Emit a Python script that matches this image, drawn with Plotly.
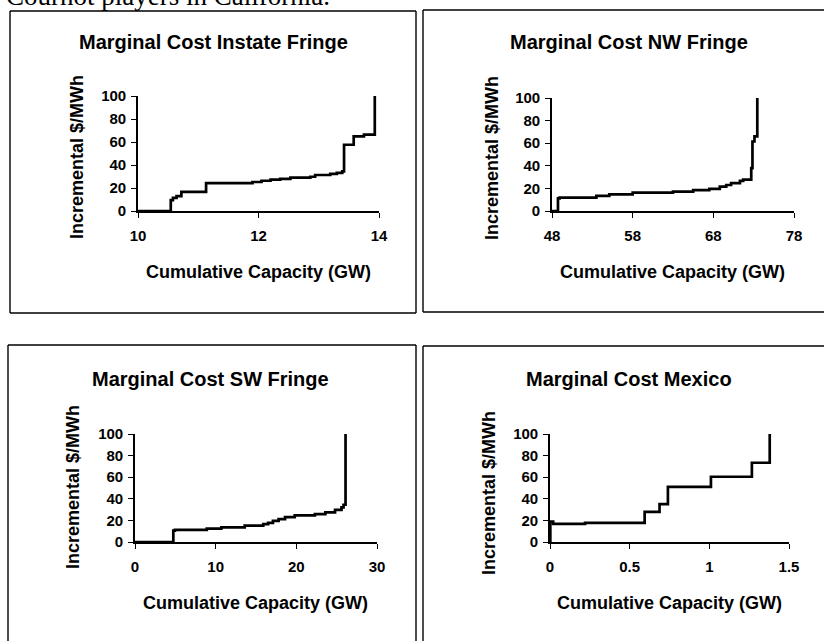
import plotly.graph_objects as go

W, H = 824, 641

# --- dane: schodkowe krzywe kosztu krańcowego (x = początek poziomu, y = poziom) ---
instate_x = [10, 10.544, 10.58, 10.64, 10.72, 11.13, 11.9, 12.05, 12.2, 12.36,
             12.53, 12.86, 12.94, 13.19, 13.3, 13.39, 13.42, 13.58, 13.75, 13.93]
instate_y = [0, 9.4, 11.4, 13, 16.7, 24.3, 25.2, 26.3, 27.2, 28,
             29, 29.8, 31.3, 32.2, 33.2, 34.5, 57.6, 64.9, 66.4, 100]

nw_x = [48, 48.74, 48.95, 53.5, 55.1, 58.0, 63.0, 65.5, 67.5, 68.8,
        69.6, 70.2, 71.3, 71.7, 72.7, 72.85, 73.1, 73.45]
nw_y = [0, 11.2, 11.8, 13.3, 14.8, 16.3, 17.2, 18.5, 19.5, 21.6,
        23, 24.6, 26.6, 27.8, 38, 61.5, 66, 100]

sw_x = [0, 4.75, 4.95, 8.9, 10.7, 13.6, 15.9, 16.5, 17.1, 17.8,
        18.6, 19.8, 22.3, 23.6, 24.8, 25.6, 25.85, 26.1]
sw_y = [0, 10.5, 11.3, 12.3, 13.5, 15.2, 16.5, 17.8, 19.5, 21.2,
        23.1, 24.6, 25.8, 27.4, 29.8, 32, 34.5, 100]

mex_x = [0, 0.002, 0.02, 0.22, 0.594, 0.6875, 0.74, 1.01, 1.267, 1.379]
mex_y = [0, 19, 16.7, 17.8, 27.9, 35, 51, 60.4, 73.4, 100]

instate_ticks = [10, 12, 14]
nw_ticks = [48, 58, 68, 78]
sw_ticks = [0, 10, 20, 30]
mex_ticks = [0, 0.5, 1, 1.5]
cost_ticks = [0, 20, 40, 60, 80, 100]

titles = ["Marginal Cost Instate Fringe", "Marginal Cost NW Fringe",
          "Marginal Cost SW Fringe", "Marginal Cost Mexico"]
x_title = "Cumulative Capacity (GW)"
y_title = "Incremental $/MWh"
caption = "Cournot players in California."

SANS = "Liberation Sans, Arial, sans-serif"
SERIF = "Liberation Serif, Times New Roman, serif"


def px_x(x):
    """piksel okna -> współrzędna paper"""
    return x / W


def px_y(y):
    return 1 - y / H


# pozycje w pikselach okna: pole wykresu (lewo, prawo, góra, dół), tytuły,
# ramki (lewo, prawo, góra, dół; None = bok poza kadrem skanu)
panels = [
    dict(box=(138, 379, 96, 211), title=(213, 42), xt=(258, 272), yt=(77, 157),
         brd=(10, 416, 11, 313), xs=instate_x, ys=instate_y, ticks=instate_ticks),
    dict(box=(552, 794, 98, 211), title=(629, 42), xt=(672, 272), yt=(492, 158),
         brd=(423, None, 10, 312), xs=nw_x, ys=nw_y, ticks=nw_ticks),
    dict(box=(135, 377, 434, 542), title=(210, 379), xt=(256, 603), yt=(73, 487),
         brd=(8, 416, 345, None), xs=sw_x, ys=sw_y, ticks=sw_ticks),
    dict(box=(550, 789, 434, 542), title=(629, 379), xt=(669, 603), yt=(489, 493),
         brd=(423, None, 346, None), xs=mex_x, ys=mex_y, ticks=mex_ticks),
]

fig = go.Figure()
annotations = []
shapes = []


def edge(x0, y0, x1, y1):
    shapes.append(dict(
        type="line", xref="paper", yref="paper",
        x0=px_x(x0), y0=px_y(y0), x1=px_x(x1), y1=px_y(y1),
        line=dict(color="black", width=1.4),
    ))


for i, p in enumerate(panels, start=1):
    sfx = "" if i == 1 else str(i)
    fig.add_trace(go.Scatter(
        x=p["xs"], y=p["ys"], mode="lines", line_shape="hv",
        line=dict(color="black", width=2.7), cliponaxis=False,
        xaxis="x" + sfx, yaxis="y" + sfx, showlegend=False,
        hoverinfo="skip",
    ))
    l, r, t, b = p["box"]
    axis_common = dict(
        showgrid=False, zeroline=False, showline=True, linecolor="black",
        linewidth=1.6, ticks="outside", ticklen=5, tickwidth=1.4,
        tickcolor="black",
        tickfont=dict(family=SANS, size=15, color="black", weight="bold"),
    )
    fig.layout["xaxis" + sfx] = dict(
        domain=[px_x(l), px_x(r)], anchor="y" + sfx,
        range=[p["ticks"][0], p["ticks"][-1]], tickvals=p["ticks"],
        ticklabelstandoff=5, **axis_common,
    )
    fig.layout["yaxis" + sfx] = dict(
        domain=[px_y(b), px_y(t)], anchor="x" + sfx,
        range=[0, 100], tickvals=cost_ticks, ticklabelstandoff=2, **axis_common,
    )
    annotations.append(dict(
        text=titles[i - 1], xref="paper", yref="paper",
        x=px_x(p["title"][0]), y=px_y(p["title"][1]),
        xanchor="center", yanchor="middle", showarrow=False,
        font=dict(family=SANS, size=20, color="black", weight="bold"),
    ))
    annotations.append(dict(
        text=x_title, xref="paper", yref="paper",
        x=px_x(p["xt"][0]), y=px_y(p["xt"][1]),
        xanchor="center", yanchor="middle", showarrow=False,
        font=dict(family=SANS, size=18, color="black", weight="bold"),
    ))
    annotations.append(dict(
        text=y_title, xref="paper", yref="paper", textangle=-90,
        x=px_x(p["yt"][0]), y=px_y(p["yt"][1]),
        xanchor="center", yanchor="middle", showarrow=False,
        font=dict(family=SANS, size=18, color="black", weight="bold"),
    ))
    # ramka panelu – tylko boki widoczne w kadrze
    bl, br, bt, bb = p["brd"]
    right = br if br is not None else W + 20
    bottom = bb if bb is not None else H + 20
    edge(bl, bt, right, bt)
    edge(bl, bt, bl, bottom)
    if br is not None:
        edge(br, bt, br, bottom)
    if bb is not None:
        edge(bl, bb, right, bb)

# obcięty fragment zdania nad wykresami (jak na skanie)
annotations.append(dict(
    text=caption, xref="paper", yref="paper",
    x=px_x(4), y=px_y(13), xanchor="left", yanchor="bottom", showarrow=False,
    font=dict(family=SERIF, size=27, color="black"),
))

fig.update_layout(
    width=W, height=H,
    margin=dict(l=0, r=0, t=0, b=0, autoexpand=False),
    paper_bgcolor="white", plot_bgcolor="white",
    annotations=annotations, shapes=shapes,
    showlegend=False, hovermode=False,
)

# bez domyślnego marginesu <body>, żeby figura wypełniała całe okno
fig.write_html(
    "out.html",
    config={"displayModeBar": False},
    post_script="document.body.style.margin = '0';",
)
